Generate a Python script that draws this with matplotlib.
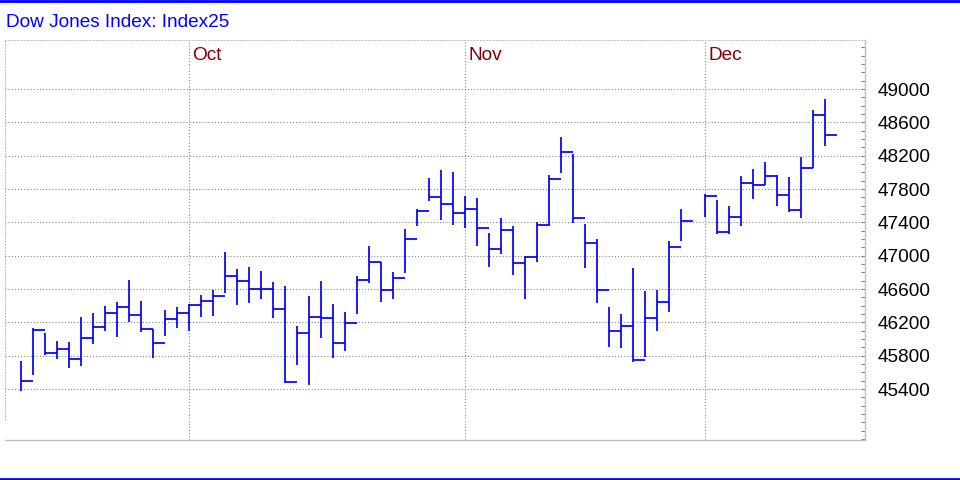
import matplotlib
matplotlib.use("Agg")
import matplotlib.pyplot as plt
import numpy as np
import pandas as pd
from matplotlib.ticker import FixedLocator, MultipleLocator
from matplotlib.lines import Line2D
import matplotlib.transforms as mtrans

plt.rcParams['font.family'] = ['Liberation Sans', 'DejaVu Sans']

title = "Dow Jones Index: Index25"

# trading calendar (weekday slots); one weekday slot has no bar
start_date = "2025-09-11"
n_slots = 68
missing_days = ["2025-11-28"]

high = [45736, 46128, 46072, 45976, 45964, 46264, 46312, 46396, 46444, 46708,
        46456, 46124, 46348, 46384, 46420, 46528, 46588, 47044, 46840, 46864,
        46816, 46684, 46636, 46156, 46516, 46696, 46420, 46324, 46756, 47120,
        46924, 46804, 47320, 47556, 47932, 48028, 48004, 47716, 47692, 47272,
        47452, 47356, 47000, 47404, 47968, 48428, 48224, 47384, 47204, 46384,
        46300, 46852, 46576, 46588, 47176, 47560,
        47736, 47668, 47596, 47956, 48036, 48124, 47964, 47940, 48188, 48748,
        48880]
low = [45380, 45572, 45812, 45764, 45656, 45680, 45944, 46100, 46028, 46208,
       46088, 45776, 46040, 46132, 46100, 46268, 46280, 46556, 46412, 46436,
       46484, 46256, 45468, 45692, 45452, 46016, 45776, 45860, 46304, 46676,
       46448, 46484, 46796, 47356, 47660, 47432, 47372, 47336, 47120, 46868,
       47024, 46772, 46484, 46928, 47360, 47996, 47396, 46856, 46428, 45908,
       45896, 45728, 45780, 46100, 46328, 47180,
       47460, 47256, 47260, 47360, 47676, 47848, 47600, 47520, 47448, 48056,
       48320]
close = [45500, 46112, 45832, 45884, 45764, 46016, 46148, 46316, 46388, 46292,
         46124, 45956, 46244, 46316, 46402, 46450, 46520, 46760, 46700, 46604,
         46604, 46364, 45484, 46076, 46268, 46256, 45956, 46196, 46712, 46928,
         46592, 46736, 47204, 47540, 47708, 47624, 47516, 47564, 47336, 47084,
         47312, 46916, 46988, 47372, 47924, 48248, 47456, 47146, 46592, 46100,
         46152, 45748, 46248, 46448, 47104, 47420,
         47710, 47282, 47468, 47876, 47852, 47952, 47732, 47552, 48056, 48692,
         48452]

months = ["Oct", "Nov", "Dec"]
month_starts = ["2025-10-01", "2025-11-03", "2025-12-01"]

y_ticks = [45400, 45800, 46200, 46600, 47000, 47400, 47800, 48200, 48600, 49000]
y_tick_labels = [str(v) for v in y_ticks]

all_days = pd.bdate_range(start_date, periods=n_slots)
bar_days = all_days.drop(pd.to_datetime(missing_days))
x = all_days.get_indexer(bar_days).astype(float)
month_x = all_days.get_indexer(pd.to_datetime(month_starts))

W, H = 960, 480
fig = plt.figure(figsize=(W / 100, H / 100), dpi=100)
ax = fig.add_axes([5 / W, 1 - 440 / H, 860 / W, 400 / H])

blue = "#0000ff"
lw_bar = 1.25
ax.vlines(x, low, high, color=blue, lw=lw_bar, capstyle="butt")
ax.hlines(close, x, x + 1, color=blue, lw=lw_bar, capstyle="butt")

ax.set_xlim(-16 / 12, 844 / 12)
ax.set_ylim(44788, 49588)

# grid
for v in y_ticks:
    ax.axhline(v, color="#808080", lw=0.75, ls=(0, (1, 2)), zorder=0)
for mx in month_x:
    ax.axvline(mx, color="#808080", lw=0.75, ls=(0, (1, 2)), zorder=0)

trans = mtrans.blended_transform_factory(ax.transData, ax.transAxes)
for name, mx in zip(months, month_x):
    ax.text(mx + 0.3, (440 - 60) / 400, name, transform=trans, color="#800000",
            fontsize=13.7, ha="left", va="baseline")

ax.yaxis.tick_right()
ax.yaxis.set_major_locator(FixedLocator(y_ticks))
ax.set_yticklabels(y_tick_labels)
ax.yaxis.set_minor_locator(MultipleLocator(100))
ax.tick_params(axis="y", which="both", direction="in", length=3, width=0.8,
               color="#808080", labelsize=13.7, pad=9)
ax.tick_params(axis="x", which="both", bottom=False, top=False,
               labelbottom=False)

for side in ["left", "top"]:
    ax.spines[side].set_color("#c0c0c0")
    ax.spines[side].set_linestyle((0, (1, 2)))
    ax.spines[side].set_linewidth(0.75)
for side in ["right", "bottom"]:
    ax.spines[side].set_color("#c0c0c0")
    ax.spines[side].set_linewidth(1.0)
ax.spines["left"].set_bounds(45028, 49588)

fig.add_artist(Line2D([0, 1], [1 - 1.3 / H] * 2, transform=fig.transFigure,
                      color=blue, lw=2.0))
fig.add_artist(Line2D([0, 1], [1.3 / H] * 2, transform=fig.transFigure,
                      color=blue, lw=2.0))

fig.text(6 / W, 1 - 27 / H, title, color=blue, fontsize=13.7,
         ha="left", va="baseline")

fig.savefig("out.png", dpi=100)
